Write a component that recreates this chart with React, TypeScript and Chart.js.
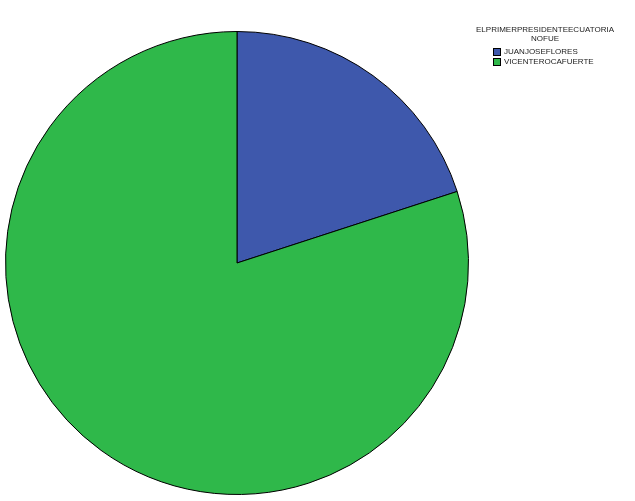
import React, { useEffect, useRef } from "react";
import { Chart, registerables } from "chart.js";

Chart.register(...registerables);

const legendTitle = ["ELPRIMERPRESIDENTEECUATORIA", "NOFUE"];
const categories = ["JUANJOSEFLORES", "VICENTEROCAFUERTE"];
const values = [20, 80];
const colors = ["#3E58AC", "#2FB84A"];

export default function App() {
  const ref = useRef<HTMLCanvasElement | null>(null);
  useEffect(() => {
    if (!ref.current) return;
    const chart = new Chart(ref.current, {
      type: "pie",
      data: {
        labels: categories,
        datasets: [
          {
            data: values,
            backgroundColor: colors,
            borderColor: "#000000",
            borderWidth: 1,
          },
        ],
      },
      options: {
        responsive: false,
        animation: false,
        layout: { padding: { left: 5, top: 31, right: 166, bottom: 6 } },
        plugins: {
          legend: { display: false },
          tooltip: { enabled: false },
        },
      },
    });
    return () => chart.destroy();
  }, []);

  const font = "'Liberation Sans', Arial, sans-serif";
  return (
    <div style={{ position: "fixed", left: 0, top: 0, width: 635, height: 501, background: "#fff" }}>
      <canvas ref={ref} width={635} height={501} style={{ position: "absolute", left: 0, top: 0 }} />
      <div
        style={{
          position: "absolute",
          left: 470,
          top: 25,
          width: 150,
          textAlign: "center",
          fontFamily: font,
          fontSize: 8,
          lineHeight: "9px",
          color: "#222",
        }}
      >
        {legendTitle.map((t, i) => (
          <div key={i}>{t}</div>
        ))}
      </div>
      {categories.map((c, i) => (
        <div
          key={c}
          style={{
            position: "absolute",
            left: 493,
            top: 47 + i * 10,
            height: 9,
            display: "flex",
            alignItems: "center",
            fontFamily: font,
            fontSize: 8,
            color: "#222",
            whiteSpace: "nowrap",
          }}
        >
          <span
            style={{
              display: "inline-block",
              width: 6,
              height: 6,
              background: colors[i],
              border: "1px solid #000",
              marginRight: 3,
            }}
          />
          {c}
        </div>
      ))}
    </div>
  );
}
